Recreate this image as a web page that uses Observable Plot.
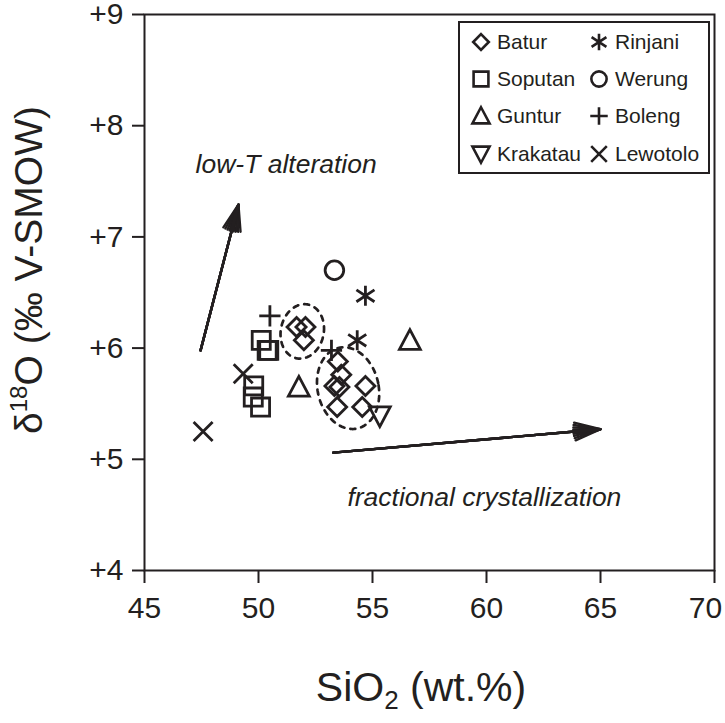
<!DOCTYPE html>
<html>
<head>
<meta charset="utf-8">
<script src="https://cdn.jsdelivr.net/npm/d3@7"></script>
<script src="https://cdn.jsdelivr.net/npm/@observablehq/plot@0.6"></script>
<style>
html, body { margin: 0; padding: 0; background: #fff; }
#wrap { position: relative; width: 725px; height: 723px; font-family: "Liberation Sans", Arial, sans-serif; color: #231f20; }
#legend { position: absolute; left: 458px; top: 21px; width: 252px; height: 153px; box-sizing: border-box; border: 2px solid #231f20; background: #fff; padding: 0 0 0 13px; overflow: hidden; }
#legend .leg-swatches { columns: 2; column-gap: 0; width: 236px; margin: 0; min-height: 0; font-family: "Liberation Sans", Arial, sans-serif; font-size: 21px; color: #231f20; }
#legend .leg-swatch { height: 37.3px; display: flex; align-items: center; padding: 0; margin: 0; break-inside: avoid; }
#legend .leg-swatch > svg { margin-right: 8px; overflow: visible; }
#legend .leg-swatch-label { overflow: visible; }
svg [aria-label^="x-axis"] line, svg [aria-label^="x-axis"] path,
svg [aria-label^="y-axis"] line, svg [aria-label^="y-axis"] path { stroke-width: 2; }
</style>
</head>
<body>
<div id="wrap"><div id="chart"></div><div id="legend"></div></div>
<script>
const ink = "#231f20";

// ---- data (SiO2 wt.%, δ18O ‰) ----
const volcanoes = ["Batur", "Soputan", "Guntur", "Krakatau", "Rinjani", "Werung", "Boleng", "Lewotolo"];

const baturSiO2 = [51.67, 52.06, 51.99, 53.48, 53.63, 53.33, 53.55, 54.69, 53.45, 54.55];
const baturD18O = [6.19, 6.19, 6.07, 5.88, 5.76, 5.66, 5.65, 5.66, 5.47, 5.47];
const soputanSiO2 = [50.12, 50.38, 50.45, 49.79, 49.77, 50.09];
const soputanD18O = [6.07, 5.98, 5.98, 5.66, 5.56, 5.47];
const gunturSiO2 = [56.64, 51.77];
const gunturD18O = [6.07, 5.65];
const krakatauSiO2 = [55.32];
const krakatauD18O = [5.39];
const rinjaniSiO2 = [54.69, 54.33];
const rinjaniD18O = [6.47, 6.07];
const werungSiO2 = [53.33];
const werungD18O = [6.70];
const bolengSiO2 = [50.50, 53.20];
const bolengD18O = [6.29, 5.98];
const lewotoloSiO2 = [47.57, 49.33];
const lewotoloD18O = [5.25, 5.77];

const xTicks = [45, 50, 55, 60, 65, 70];
const yTicks = [4, 5, 6, 7, 8, 9];

// trend arrows
const arrowLabels = ["low-T alteration", "fractional crystallization"];
const arrowFromSiO2 = [47.46, 53.28];
const arrowFromD18O = [5.98, 5.06];
const arrowToSiO2 = [49.12, 65.0];
const arrowToD18O = [7.29, 5.27];
const labelSiO2 = [47.24, 53.9];
const labelD18O = [7.65, 4.66];

// dotted ellipses around Batur groups (center and conjugate half-axes, data units)
const ellipseIds = ["upper", "lower"];
const ellipseCx = [51.92, 53.93];
const ellipseCy = [6.15, 5.64];
const ellipseUx = [0.95, 1.32];
const ellipseUy = [0.0, 0.045];
const ellipseVx = [0.10, -0.35];
const ellipseVy = [0.245, 0.365];

// ---- tables ----
const series = [
  ["Batur", baturSiO2, baturD18O],
  ["Soputan", soputanSiO2, soputanD18O],
  ["Guntur", gunturSiO2, gunturD18O],
  ["Krakatau", krakatauSiO2, krakatauD18O],
  ["Rinjani", rinjaniSiO2, rinjaniD18O],
  ["Werung", werungSiO2, werungD18O],
  ["Boleng", bolengSiO2, bolengD18O],
  ["Lewotolo", lewotoloSiO2, lewotoloD18O]
];
const points = series.flatMap(([name, xs, ys]) => xs.map((x, i) => ({volcano: name, sio2: x, d18o: ys[i]})));

const arrows = arrowLabels.map((t, i) => ({
  x1: arrowFromSiO2[i], y1: arrowFromD18O[i], x2: arrowToSiO2[i], y2: arrowToD18O[i],
  lx: labelSiO2[i], ly: labelD18O[i], text: t
}));

const ellipsePts = [];
ellipseIds.forEach((id, k) => {
  for (let j = 0; j <= 96; j++) {
    const t = (j / 96) * 2 * Math.PI;
    ellipsePts.push({
      id,
      x: ellipseCx[k] + ellipseUx[k] * Math.cos(t) + ellipseVx[k] * Math.sin(t),
      y: ellipseCy[k] + ellipseUy[k] * Math.cos(t) + ellipseVy[k] * Math.sin(t)
    });
  }
});

// ---- symbols ----
const rr = (s) => Math.sqrt(s / Math.PI);
const symDiamond = {draw(c, s) { const r = rr(s); c.moveTo(0, -r); c.lineTo(r, 0); c.lineTo(0, r); c.lineTo(-r, 0); c.closePath(); }};
const symSquare = {draw(c, s) { const r = rr(s) * 0.95; c.moveTo(-r, -r); c.lineTo(r, -r); c.lineTo(r, r); c.lineTo(-r, r); c.closePath(); }};
const symTriUp = {draw(c, s) { const r = rr(s); c.moveTo(0, -1.12 * r); c.lineTo(1.1 * r, 0.95 * r); c.lineTo(-1.1 * r, 0.95 * r); c.closePath(); }};
const symTriDown = {draw(c, s) { const r = rr(s); c.moveTo(0, 1.12 * r); c.lineTo(1.1 * r, -0.95 * r); c.lineTo(-1.1 * r, -0.95 * r); c.closePath(); }};
const symAsterisk = {draw(c, s) { const r = rr(s); const a = r * 0.95, b = r * 0.62;
  c.moveTo(0, -1.05 * r); c.lineTo(0, 1.05 * r); c.moveTo(-a, -b); c.lineTo(a, b); c.moveTo(-a, b); c.lineTo(a, -b); }};
const symCircle = {draw(c, s) { const r = rr(s) * 0.98; c.moveTo(r, 0); c.arc(0, 0, r, 0, 2 * Math.PI); }};
const symPlus = {draw(c, s) { const r = rr(s) * 1.12; c.moveTo(-r, 0); c.lineTo(r, 0); c.moveTo(0, -r); c.lineTo(0, r); }};
const symTimes = {draw(c, s) { const r = rr(s) * 1.0; c.moveTo(-r, -r); c.lineTo(r, r); c.moveTo(-r, r); c.lineTo(r, -r); }};
const symbols = [symDiamond, symSquare, symTriUp, symTriDown, symAsterisk, symCircle, symPlus, symTimes];

// ---- plot ----
const headAngles = [38, 28, 18, 9, 3];
const chart = Plot.plot({
  width: 725,
  height: 723,
  marginLeft: 144,
  marginRight: 11,
  marginTop: 14,
  marginBottom: 153,
  style: {fontFamily: "'Liberation Sans', Arial, sans-serif", fontSize: "30px", color: ink, background: "#fff"},
  x: {domain: [45, 70], ticks: xTicks, tickSize: 13, tickPadding: 13, label: null},
  y: {domain: [4, 9], ticks: yTicks, tickSize: 12, tickPadding: 9, tickFormat: (d) => "+" + d, label: null},
  symbol: {domain: volcanoes, range: symbols},
  marks: [
    Plot.frame({stroke: ink, strokeWidth: 2}),
    Plot.line(ellipsePts, {x: "x", y: "y", z: "id", stroke: ink, strokeWidth: 2.7, strokeDasharray: "5,6"}),
    ...headAngles.map((a) => Plot.arrow(arrows, {x1: "x1", y1: "y1", x2: "x2", y2: "y2", stroke: ink, strokeWidth: 2.4, headLength: 17, headAngle: a})),
    Plot.text(arrows, {x: "lx", y: "ly", text: "text", textAnchor: "start", fontSize: 26.5, fontStyle: "italic", fill: ink}),
    Plot.dot(points, {x: "sio2", y: "d18o", symbol: "volcano", r: 9.5, stroke: ink, strokeWidth: 2.8, fill: "none"})
  ]
});
document.getElementById("chart").appendChild(chart);

const svg = d3.select(chart);
// keep the last x tick label inside the picture, as in the reference
svg.selectAll("text").each(function () {
  if (this.textContent === "70") d3.select(this).attr("dx", -9);
});

// axis titles with sub/superscripts
const yt = svg.append("text")
  .attr("transform", "translate(42,270) rotate(-90)")
  .attr("text-anchor", "middle")
  .attr("font-size", 39)
  .attr("fill", ink);
yt.append("tspan").text("δ");
yt.append("tspan").attr("font-size", 24).attr("dy", -15).text("18");
yt.append("tspan").attr("dy", 15).text("O (‰ V-SMOW)");

const xt = svg.append("text")
  .attr("transform", "translate(421,701)")
  .attr("text-anchor", "middle")
  .attr("font-size", 41)
  .attr("fill", ink);
xt.append("tspan").text("SiO");
xt.append("tspan").attr("font-size", 26).attr("dy", 8).text("2");
xt.append("tspan").attr("dy", -8).text(" (wt.%)");

// legend
const leg = Plot.legend({
  symbol: {domain: volcanoes, range: symbols},
  columns: 2,
  className: "leg",
  swatchSize: 16,
  r: 7.8,
  stroke: ink,
  fill: "none",
  strokeWidth: 2.6
});
document.getElementById("legend").appendChild(leg);
</script>
</body>
</html>
